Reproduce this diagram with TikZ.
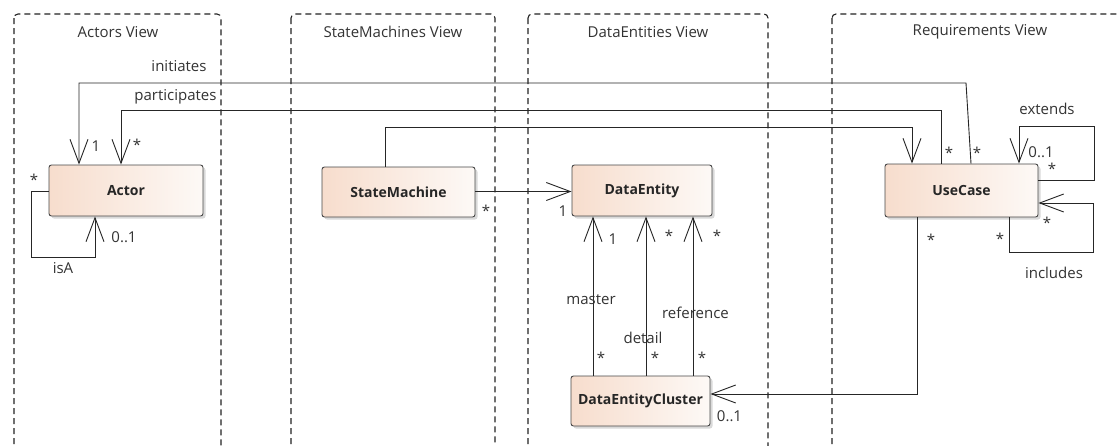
\documentclass[tikz,border=0pt]{standalone}
\usepackage{fontspec}
\setmainfont{Open Sans}
\usetikzlibrary{arrows.meta,shadows,calc}
\definecolor{boxL}{HTML}{F7DDCD}
\definecolor{boxR}{HTML}{FDF9F6}
\definecolor{lineC}{HTML}{262626}
\definecolor{txtC}{HTML}{333333}
\definecolor{frameC}{HTML}{222222}
\begin{document}
\begin{tikzpicture}[x=1pt,y=-1pt,
  cls/.style={draw=lineC!85, line width=0.9pt, rounded corners=2.5pt,
    left color=boxL, right color=boxR,
    drop shadow={shadow xshift=2.5pt,shadow yshift=-2.5pt,opacity=0.15,fill=black},
    font=\fontsize{14}{16}\selectfont\bfseries, text=black!85, inner sep=0pt},
  view/.style={draw=frameC, line width=1.1pt, dash pattern=on 6pt off 4pt, rounded corners=4pt},
  ttl/.style={font=\fontsize{15}{17}\selectfont, text=txtC, inner sep=0pt},
  lbl/.style={font=\fontsize{15}{17}\selectfont, text=txtC, inner sep=0pt},
  assoc/.style={draw=lineC, line width=0.9pt},
  nav/.style={assoc, -{Straight Barb[length=24pt,width=18pt]}},
]
\useasboundingbox (0,0) rectangle (1120,445);
\fill[white] (0,0) rectangle (1120,445);
% view frames
\begin{scope}
\clip (0,0) rectangle (1120,445);
\draw[view] (14,14) rectangle (221,480);
\draw[view] (291,14) rectangle (495,480);
\draw[view] (528,14) rectangle (768,480);
\draw[view] (832,14) rectangle (1128,480);
\end{scope}
\node[ttl] (tA) at (118,32) {Actors View};
\node[ttl] (tS) at (393,32) {StateMachines View};
\node[ttl] (tD) at (648,32) {DataEntities View};
\node[ttl] (tR) at (980,32) {Requirements View};
% classes
\node[cls, minimum width=154pt, minimum height=51pt] (actor) at (126,190.5) {Actor};
\node[cls, minimum width=153pt, minimum height=50pt] (sm) at (398.5,192) {StateMachine};
\node[cls, minimum width=140pt, minimum height=51pt] (de) at (642,190.5) {DataEntity};
\node[cls, minimum width=139pt, minimum height=50pt] (dec) at (640.5,401) {DataEntityCluster};
\node[cls, minimum width=153pt, minimum height=53pt] (uc) at (961.5,190.5) {UseCase};
% waypoints
\coordinate (iniR) at (966,83);
\coordinate (iniL) at (79,83);
\coordinate (parL) at (121,110);
\coordinate (smu) at (912,127);
\coordinate (ucc) at (917,394);
\coordinate (ex1) at (1094,126);
\coordinate (in1) at (1093,252);
\coordinate (isa1) at (31,257);
% connectors
\draw[nav] ([xshift=9.5pt]uc.north) -- (iniR) -- (iniL) -- (iniL |- actor.north);
\draw[nav] ([xshift=-20.5pt]uc.north) |- (parL) -- (parL |- actor.north);
\draw[nav] ([xshift=-13.5pt]sm.north) |- (smu) -- (smu |- uc.north);
\draw[nav] ([yshift=0.5pt]sm.east) -- ([yshift=0.5pt]sm.east -| de.west);
\draw[nav] ([xshift=-47.5pt]dec.north) -- ([xshift=-47.5pt]dec.north |- de.south);
\draw[nav] ([xshift=5.5pt]dec.north) -- ([xshift=5.5pt]dec.north |- de.south);
\draw[nav] ([xshift=52.5pt]dec.north) -- ([xshift=52.5pt]dec.north |- de.south);
\draw[nav] ([xshift=-44.5pt]uc.south) -- (ucc) -- (ucc -| dec.east);
\draw[nav] ([yshift=10.5pt]uc.east) -| (ex1) -| ([xshift=57.5pt]uc.north);
\draw[nav] ([xshift=47.5pt]uc.south) |- (in1) |- ([yshift=-12.5pt]uc.east);
\draw[nav] ([yshift=-0.5pt]actor.west) -| (isa1) -| ([xshift=-31pt]actor.south);
% labels
\node[lbl] (l1) at (179,66) {initiates};
\node[lbl] (l2) at (175.5,97) {participates};
\node[lbl] (m1) at (96,146) {1};
\node[lbl] (m2) at (137,145) {*};
\node[lbl] (m3) at (977,153) {*};
\node[lbl] (m4) at (949,153) {*};
\node[lbl] (m5) at (486,211) {*};
\node[lbl] (m6) at (563,211) {1};
\node[lbl] (m7) at (613,239) {1};
\node[lbl] (m8) at (601,358) {*};
\node[lbl] (l3) at (591,300) {master};
\node[lbl] (m9) at (669,236) {*};
\node[lbl] (m10) at (655,358) {*};
\node[lbl] (l4) at (643,338) {detail};
\node[lbl] (m11) at (717,236) {*};
\node[lbl] (m12) at (702,358) {*};
\node[lbl] (l5) at (695.5,313) {reference};
\node[lbl] (m13) at (931,240) {*};
\node[lbl] (m14) at (729.5,416) {0..1};
\node[lbl] (l6) at (1047,109) {extends};
\node[lbl] (m15) at (1041,152) {0..1};
\node[lbl] (m16) at (1052,169) {*};
\node[lbl] (l7) at (1054,273) {includes};
\node[lbl] (m17) at (1047,223) {*};
\node[lbl] (m18) at (1000,239) {*};
\node[lbl] (m19) at (34,180) {*};
\node[lbl] (m20) at (124,237) {0..1};
\node[lbl] (l8) at (63,268) {isA};
\end{tikzpicture}
\end{document}
